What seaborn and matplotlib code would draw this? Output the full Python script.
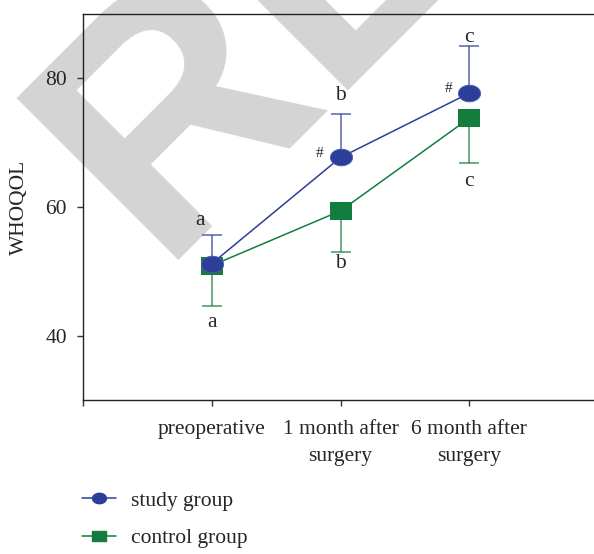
import numpy as np
import pandas as pd
import matplotlib
matplotlib.use("Agg")
import matplotlib.pyplot as plt
from matplotlib.path import Path
from matplotlib.lines import Line2D
import seaborn as sns

# dados
momentos = ["preoperative", "1 month after\nsurgery", "6 month after\nsurgery"]
estudo_media = [51.2, 67.7, 77.7]
estudo_dp = [4.5, 6.8, 7.4]
controle_media = [50.9, 59.4, 73.8]
controle_dp = [6.3, 6.4, 6.9]

# letras de significância (acima do estudo / abaixo do controle)
letras = ["a", "b", "c"]
# deslocamento vertical das letras (pontos) a partir da ponta da barra
desloc_acima = [10, 13, 5.5]
desloc_abaixo = [11.5, 8, 13.5]

cor_estudo = "#2c3e98"
cor_controle = "#137d40"
fs = 15.5

sns.set_style("ticks")
plt.rcParams["font.family"] = ["Liberation Serif", "DejaVu Serif"]

pos = [1, 2, 3]
df = pd.DataFrame({
    "pos": pos * 2,
    "WHOQOL": estudo_media + controle_media,
    "grupo": ["study group"] * 3 + ["control group"] * 3,
})

# marcadores levemente achatados, como na figura
t = np.linspace(0, 2 * np.pi, 60)
elipse = Path(np.column_stack([np.cos(t), np.sin(t) * 0.75]))
retangulo = Path([(-1, -0.78), (1, -0.78), (1, 0.78), (-1, 0.78), (-1, -0.78)])

fig = plt.figure(figsize=(5.94, 5.54), dpi=100)
ax = fig.add_axes([83 / 594, 1 - 400 / 554, 515 / 594, 386 / 554])
ax.patch.set_alpha(0)

# marca d'água
fig.text(0.2645, 0.531, "RETRACTED", rotation=45, rotation_mode="anchor",
         ha="left", va="baseline", fontsize=240, fontweight="bold",
         family="Liberation Sans", color="#d4d4d4", zorder=-5)

# barras de erro unilaterais
ax.errorbar(pos, estudo_media, yerr=[np.zeros(3), estudo_dp], fmt="none",
            ecolor=cor_estudo, elinewidth=1.1, capsize=7, capthick=1.1, alpha=0.8, zorder=2)
ax.errorbar(pos, controle_media, yerr=[controle_dp, np.zeros(3)], fmt="none",
            ecolor=cor_controle, elinewidth=1.1, capsize=7, capthick=1.1, alpha=0.8, zorder=2)

sns.lineplot(data=df[df.grupo == "control group"], x="pos", y="WHOQOL", color=cor_controle,
             marker=retangulo, markersize=16, markeredgewidth=0, linewidth=1.1, ax=ax, zorder=3)
sns.lineplot(data=df[df.grupo == "study group"], x="pos", y="WHOQOL", color=cor_estudo,
             marker=elipse, markersize=16, markeredgewidth=0.6, markeredgecolor="#4b5bb0",
             linewidth=1.1, ax=ax, zorder=4)

# letras e símbolos
for i, p in enumerate(pos):
    dx = -0.09 if i == 0 else 0
    ax.annotate(letras[i], (p + dx, estudo_media[i] + estudo_dp[i]), xytext=(0, desloc_acima[i]),
                textcoords="offset points", ha="center", va="center", fontsize=fs)
    ax.annotate(letras[i], (p, controle_media[i] - controle_dp[i]), xytext=(0, -desloc_abaixo[i]),
                textcoords="offset points", ha="center", va="center", fontsize=fs)
for i in [1, 2]:
    ax.annotate("#", (pos[i], estudo_media[i]), xytext=(-12, 3), textcoords="offset points",
                ha="right", va="center", fontsize=11)

ax.set_xlim(0, 4)
ax.set_ylim(30, 90)
ax.set_xticks([0] + pos)
ax.set_xticklabels([""] + momentos, fontsize=fs, linespacing=1.55)
ax.set_yticks([40, 60, 80])
ax.set_yticklabels(["40", "60", "80"], fontsize=fs)
ax.set_xlabel("")
ax.set_ylabel("WHOQOL", fontsize=fs, labelpad=12)
ax.tick_params(direction="out", length=4.5, width=1, color="#333333", pad=7)
ax.tick_params(axis="x", pad=10)
for s in ["left", "top", "bottom"]:
    ax.spines[s].set_color("#222222")
    ax.spines[s].set_linewidth(1)
ax.spines["right"].set_visible(False)

handles = [
    Line2D([], [], color=cor_estudo, marker=elipse, markersize=10, linewidth=1.1),
    Line2D([], [], color=cor_controle, marker=retangulo, markersize=10, linewidth=1.1),
]
fig.legend(handles, ["study group", "control group"], loc="upper left",
           bbox_to_anchor=(0.138, 0.114), frameon=False, fontsize=fs,
           handlelength=1.58, handletextpad=0.7, labelspacing=0.8, borderpad=0, borderaxespad=0)

fig.savefig("out.png", dpi=100)
